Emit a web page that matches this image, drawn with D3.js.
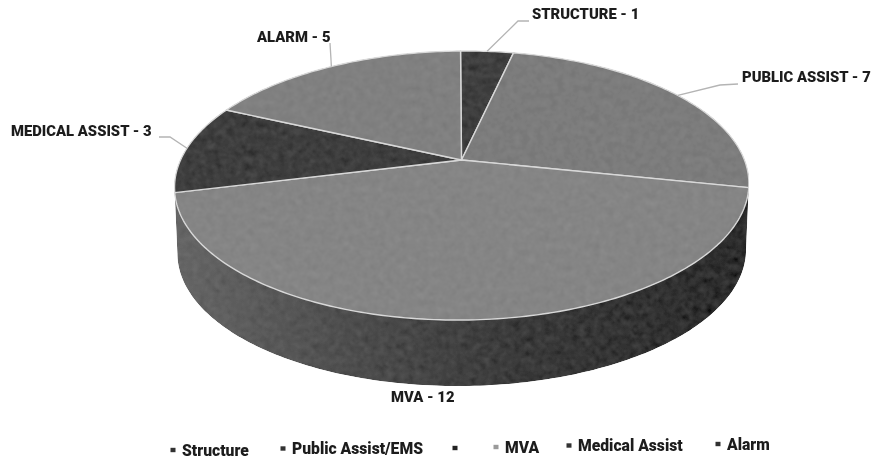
<!DOCTYPE html>
<html>
<head>
<meta charset="utf-8">
<script src="https://cdn.jsdelivr.net/npm/d3@7"></script>
<style>
    html, body { margin: 0; padding: 0; background: #fff; }
    svg { display: block; }
    text { font-family: Roboto, sans-serif; font-weight: 900; fill: #1c1c1c; }
</style>
</head>
<body>
<div id="chart"></div>
<script>
// Chart data
const categories = ["Structure", "Public Assist/EMS", "", "MVA", "Medical Assist", "Alarm"];
const labelNames = ["STRUCTURE", "PUBLIC ASSIST", "", "MVA", "MEDICAL ASSIST", "ALARM"];
const values = [1, 7, 0, 12, 3, 5];

// Layout, one entry per category
const sliceColors = ["#3f3f3f", "#7c7c7c", "#555555", "#858585", "#3e3e3e", "#808080"];
const legendColors = ["#333333", "#333333", "#222222", "#9a9a9a", "#333333", "#333333"];
const labelPos = [[532, 14], [742, 77], null, [391, 397], [11, 131], [257, 37]];
const legendPos = [[173, 450], [283, 448.5], [455, 448], [496, 447], [569, 445.5], [718, 444]];
const legendGap = 9;
const leaderBends = [
    [[518, 21], [529, 21]],
    [[720, 85], [738, 84]],
    null,
    null,
    [[170, 137], [159, 137]],
    [[330, 43]]
];

const width = 871, height = 458;

// Tilted disc: the unit circle goes through a perspective map so the hub sits above the ellipse centre
const hub = {x: 461.5, y: 160};
const persp = -0.1896, scaleX = 282, scaleY = 129.7;
const wallDepth = 66, wallShrink = 0.99;
const scanTilt = -0.5 * Math.PI / 180; // the scan is a little crooked

function project(angle) {
    const X = Math.sin(angle), Y = -Math.cos(angle);
    const d = 1 + persp * Y;
    const px = scaleX * X / d, py = scaleY * Y / d;
    return [
        hub.x + px * Math.cos(scanTilt) - py * Math.sin(scanTilt),
        hub.y + px * Math.sin(scanTilt) + py * Math.cos(scanTilt)
    ];
}
function projectLow(angle) {
    const p = project(angle);
    return [hub.x + (p[0] - hub.x) * wallShrink, p[1] + wallDepth];
}
function arcSamples(a0, a1) {
    const n = Math.max(2, Math.ceil(Math.abs(a1 - a0) * 60));
    return d3.range(n + 1).map(i => a0 + (a1 - a0) * i / n);
}

const svg = d3.select("#chart").append("svg")
    .attr("width", width)
    .attr("height", height);

const defs = svg.append("defs");

const wallGrad = defs.append("linearGradient")
    .attr("id", "wallGrad")
    .attr("gradientUnits", "userSpaceOnUse")
    .attr("x1", 175).attr("x2", 749).attr("y1", 0).attr("y2", 0);
wallGrad.append("stop").attr("offset", "0%").attr("stop-color", "#666666");
wallGrad.append("stop").attr("offset", "30%").attr("stop-color", "#4e4e4e");
wallGrad.append("stop").attr("offset", "60%").attr("stop-color", "#3a3a3a");
wallGrad.append("stop").attr("offset", "100%").attr("stop-color", "#2c2c2c");

// Scanned-paper grain on the disc
const grain = defs.append("filter")
    .attr("id", "grain")
    .attr("x", "0%").attr("y", "0%").attr("width", "100%").attr("height", "100%");
grain.append("feTurbulence")
    .attr("type", "fractalNoise")
    .attr("baseFrequency", 0.14)
    .attr("numOctaves", 2)
    .attr("seed", 4)
    .attr("result", "noise");
grain.append("feColorMatrix")
    .attr("in", "noise")
    .attr("type", "matrix")
    .attr("values", "0.33 0.33 0.33 0 0  0.33 0.33 0.33 0 0  0.33 0.33 0.33 0 0  0 0 0 0 1")
    .attr("result", "grey");
grain.append("feComposite")
    .attr("in", "SourceGraphic")
    .attr("in2", "grey")
    .attr("operator", "arithmetic")
    .attr("k1", 0).attr("k2", 1).attr("k3", 0.09).attr("k4", -0.045)
    .attr("result", "mixed");
grain.append("feComposite")
    .attr("in", "mixed")
    .attr("in2", "SourceAlpha")
    .attr("operator", "in");

// Slightly soft text, like the scan
defs.append("filter")
    .attr("id", "soft")
    .append("feGaussianBlur")
    .attr("stdDeviation", 0.35);

const pie = d3.pie().sort(null).value(d => d);
const arcs = pie(values);
const line = d3.line();

const disc = svg.append("g").attr("filter", "url(#grain)");

// Side wall, only the near half of the rim
const rimStart = Math.acos(persp), rimEnd = 2 * Math.PI - rimStart;
const rim = arcSamples(rimStart, rimEnd);
disc.append("path")
    .attr("d", line(rim.map(project).concat(rim.slice().reverse().map(projectLow))) + "Z")
    .attr("fill", "url(#wallGrad)");

// Top slices
disc.selectAll(".slice")
    .data(arcs.filter(d => d.value > 0))
    .enter()
    .append("path")
    .attr("class", "slice")
    .attr("d", d => line([[hub.x, hub.y]].concat(arcSamples(d.startAngle, d.endAngle).map(project))) + "Z")
    .attr("fill", d => sliceColors[d.index])
    .attr("stroke", "#d8d8d8")
    .attr("stroke-width", 1.4)
    .attr("stroke-linejoin", "round");

// Leader lines start on the rim at each slice's middle
svg.selectAll(".leader")
    .data(arcs.filter(d => leaderBends[d.index]))
    .enter()
    .append("path")
    .attr("class", "leader")
    .attr("d", d => line([project((d.startAngle + d.endAngle) / 2)].concat(leaderBends[d.index])))
    .attr("fill", "none")
    .attr("stroke", "#b4b4b4")
    .attr("stroke-width", 1.3);

const textLayer = svg.append("g").attr("filter", "url(#soft)");

// Slice labels
textLayer.selectAll(".slice-label")
    .data(arcs.filter(d => labelPos[d.index]))
    .enter()
    .append("text")
    .attr("class", "slice-label")
    .attr("x", d => labelPos[d.index][0])
    .attr("y", d => labelPos[d.index][1])
    .attr("dy", "0.35em")
    .style("font-size", "14.8px")
    .text(d => `${labelNames[d.index]} - ${d.value}`);

// Legend, including the unnamed entry
const legend = textLayer.selectAll(".legend-item")
    .data(categories)
    .enter()
    .append("g")
    .attr("class", "legend-item")
    .attr("transform", (d, i) => `translate(${legendPos[i][0]},${legendPos[i][1]})`);

legend.append("rect")
    .attr("x", -2.5)
    .attr("y", -2.2)
    .attr("width", 5)
    .attr("height", 4.4)
    .attr("fill", (d, i) => legendColors[i]);

legend.append("text")
    .attr("x", legendGap)
    .attr("dy", "0.35em")
    .style("font-size", "15.7px")
    .text(d => d);
</script>
</body>
</html>
